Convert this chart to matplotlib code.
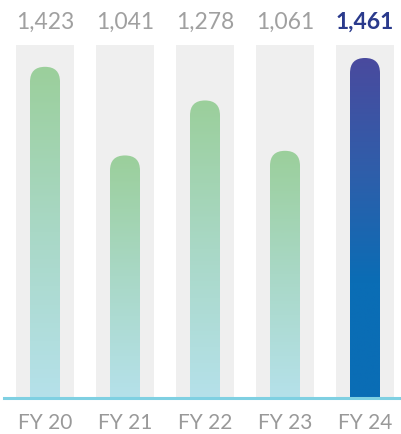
import matplotlib
matplotlib.use("Agg")
import matplotlib.pyplot as plt
import numpy as np
from matplotlib.patches import FancyBboxPatch, Rectangle
from matplotlib.colors import LinearSegmentedColormap

years = ["FY 20", "FY 21", "FY 22", "FY 23", "FY 24"]
values = [1423, 1041, 1278, 1061, 1461]
labels = ["1,423", "1,041", "1,278", "1,061", "1,461"]

W, H = 401, 435
fig = plt.figure(figsize=(W / 100, H / 100), dpi=100)

# axes: baseline at 398px from top, column tops at 46px
ax = fig.add_axes([0, 37 / H, 1, (398 - 46) / H])
ymax = 1517
ax.set_xlim(-45 / 80, (W - 45) / 80)
ax.set_ylim(0, ymax)
ax.axis("off")

col_w = 58 / 80
bar_w = 30 / 80
px_per_y = (398 - 46) / ymax
aspect = (1 / px_per_y) / (1 / 80)

green = LinearSegmentedColormap.from_list("g", ["#b5e1ea", "#a9d8c6", "#9bcf9b"])
blue = LinearSegmentedColormap.from_list("b", ["#0a6db5", "#0a6db5", "#2f5eaa", "#4a4a9e"])

for i, v in enumerate(values):
    ax.add_patch(Rectangle((i - col_w / 2, 0), col_w, ymax, color="#efefef", lw=0, zorder=1))
    patch = FancyBboxPatch((i - bar_w / 2, -200), bar_w, v + 200,
                           boxstyle="round,pad=0,rounding_size=%f" % (bar_w / 2),
                           mutation_aspect=aspect, fc="none", ec="none", zorder=2)
    ax.add_patch(patch)
    cmap = blue if i == len(values) - 1 else green
    grad = np.linspace(0, 1, 256).reshape(-1, 1)
    im = ax.imshow(grad, cmap=cmap, origin="lower", aspect="auto",
                   extent=[i - bar_w / 2, i + bar_w / 2, 0, v], zorder=2)
    im.set_clip_path(patch)

    last = i == len(values) - 1
    fig.text((45 + 80 * i) / W, 1 - 22 / H, labels[i], ha="center", va="center",
             fontsize=16.5, family="Lato",
             color="#2a3a8c" if last else "#a0a0a0",
             fontweight="bold" if last else "normal")
    fig.text((45 + 80 * i) / W, 1 - 423 / H, years[i], ha="center", va="center",
             fontsize=15, family="Lato", color="#999999")

ax.set_xlim(-45 / 80, (W - 45) / 80)
ax.set_ylim(0, ymax)
fig.add_artist(plt.Line2D([4 / W, 1], [1 - 399 / H, 1 - 399 / H], color="#7fd0e2", lw=2.2))

fig.savefig("out.png", dpi=100)
